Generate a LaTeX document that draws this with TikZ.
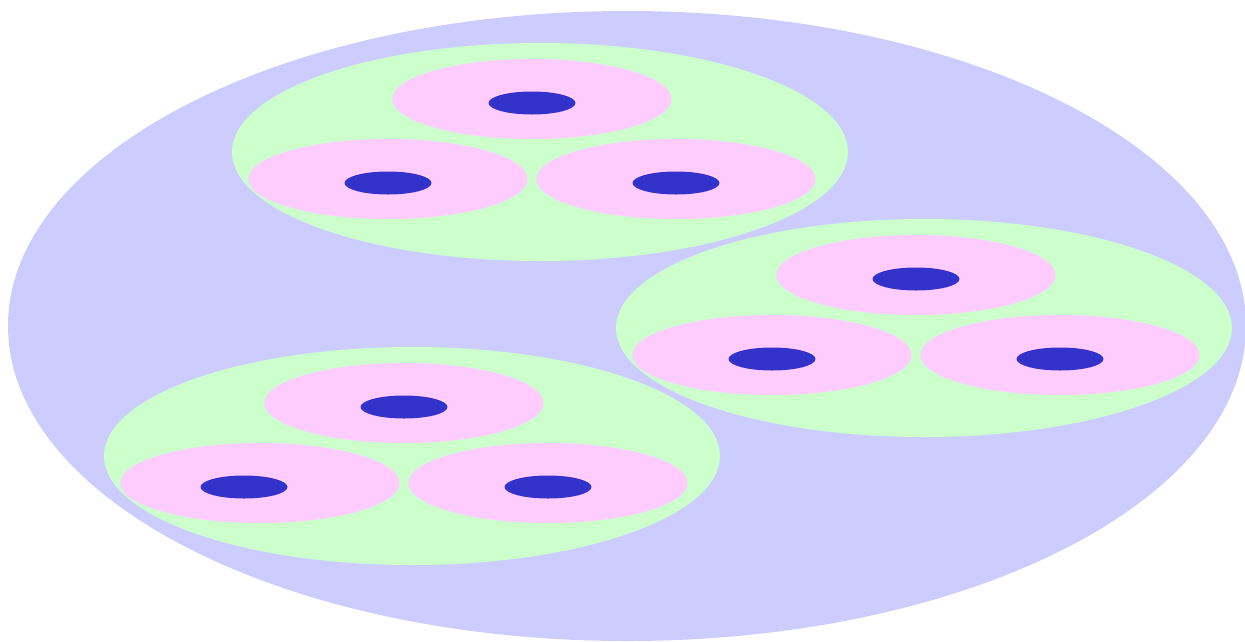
\documentclass[tikz,border=0pt]{standalone}
\definecolor{outerc}{HTML}{CCCCFF}
\definecolor{groupc}{HTML}{CCFFCC}
\definecolor{cellc}{HTML}{FFCCFF}
\definecolor{corec}{HTML}{3333CC}
\begin{document}
\begin{tikzpicture}[x=1pt,y=-1pt,
  outerbox/.style={fill=outerc},
  groupbox/.style={fill=groupc},
  cellbox/.style={fill=cellc},
  corebox/.style={fill=corec}]
\clip (0,0) rectangle (1245,641);
\useasboundingbox (0,0) rectangle (1245,641);
% outer
\fill[outerbox] (627,326) ellipse [x radius=619, y radius=315];
% group 1
\fill[groupbox] (540,152) ellipse [x radius=308, y radius=109];
\fill[cellbox] (532,99) ellipse [x radius=139.5, y radius=40];
\fill[cellbox] (388,179) ellipse [x radius=139.5, y radius=40];
\fill[cellbox] (676,179) ellipse [x radius=139.5, y radius=40];
\fill[corebox] (532,103) ellipse [x radius=43.5, y radius=11.5];
\fill[corebox] (388,183) ellipse [x radius=43.5, y radius=11.5];
\fill[corebox] (676,183) ellipse [x radius=43.5, y radius=11.5];
% group 2
\fill[groupbox] (924,328) ellipse [x radius=308, y radius=109];
\fill[cellbox] (916,275) ellipse [x radius=139.5, y radius=40];
\fill[cellbox] (772,355) ellipse [x radius=139.5, y radius=40];
\fill[cellbox] (1060,355) ellipse [x radius=139.5, y radius=40];
\fill[corebox] (916,279) ellipse [x radius=43.5, y radius=11.5];
\fill[corebox] (772,359) ellipse [x radius=43.5, y radius=11.5];
\fill[corebox] (1060,359) ellipse [x radius=43.5, y radius=11.5];
% group 3
\fill[groupbox] (412,456) ellipse [x radius=308, y radius=109];
\fill[cellbox] (404,403) ellipse [x radius=139.5, y radius=40];
\fill[cellbox] (260,483) ellipse [x radius=139.5, y radius=40];
\fill[cellbox] (548,483) ellipse [x radius=139.5, y radius=40];
\fill[corebox] (404,407) ellipse [x radius=43.5, y radius=11.5];
\fill[corebox] (244,487) ellipse [x radius=43.5, y radius=11.5];
\fill[corebox] (548,487) ellipse [x radius=43.5, y radius=11.5];
\end{tikzpicture}
\end{document}
